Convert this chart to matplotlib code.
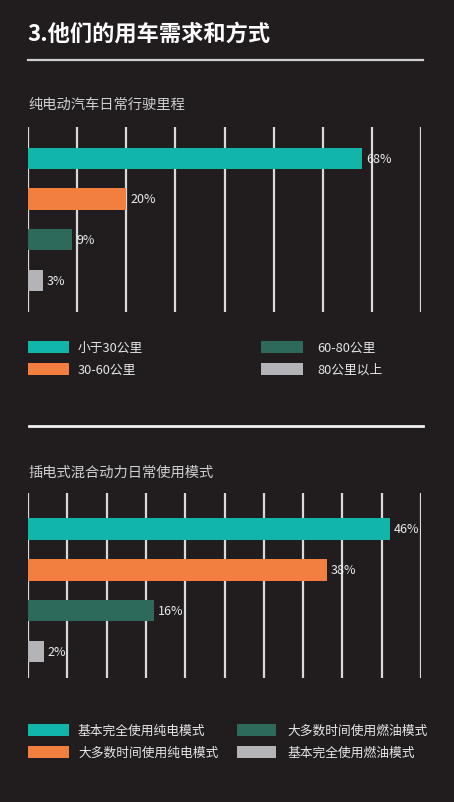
import matplotlib
matplotlib.use("Agg")
import matplotlib.pyplot as plt
from matplotlib.patches import Rectangle
from matplotlib.lines import Line2D

plt.rcParams['font.family'] = ['Noto Sans CJK SC', 'DejaVu Sans']

# ---- data ----
title = "3.他们的用车需求和方式"

ev_title = "纯电动汽车日常行驶里程"
ev_categories = ["小于30公里", "30-60公里", "60-80公里", "80公里以上"]
ev_values = [68, 20, 9, 3]

phev_title = "插电式混合动力日常使用模式"
phev_categories = ["基本完全使用纯电模式", "大多数时间使用纯电模式",
                   "大多数时间使用燃油模式", "基本完全使用燃油模式"]
phev_values = [46, 38, 16, 2]

colors = ["#12b5a9", "#f27f3f", "#2d6a5b", "#b4b4b8"]
BG = "#211d1e"
GRID = "#d9d9d9"
TXT = "#e6e6e6"

W, H = 454, 803
fig = plt.figure(figsize=(W / 100, H / 100), dpi=100, facecolor=BG)


def fx(px):
    return px / W


def fy(py):
    return 1 - py / H


def axes_px(x0, y0, x1, y1):
    return fig.add_axes([fx(x0), fy(y1), fx(x1 - x0), (y1 - y0) / H])


def hline(y, x0, x1, lw=1.5, color=GRID):
    fig.add_artist(Line2D([fx(x0), fx(x1)], [fy(y), fy(y)], color=color, lw=lw,
                          transform=fig.transFigure))


def draw_bars(ax, values, xmax, step, ylim):
    ax.set_facecolor(BG)
    ticks = list(range(0, xmax + 1, step))
    for t in ticks:
        ax.axvline(t, color=GRID, lw=1.6, zorder=1)
    ypos = list(range(len(values)))
    ax.barh(ypos, values, height=0.53, color=colors, zorder=2)
    for y, v in zip(ypos, values):
        ax.annotate(f"{v}%", (v, y), xytext=(3, 0), textcoords="offset points",
                    va="center", ha="left", color="#ececec", fontsize=9, zorder=3)
    ax.set_xlim(0, xmax)
    ax.set_ylim(*ylim)
    ax.axis("off")


def legend(rows, x_patch, x_text, pw, items):
    for (label, color), (col, row) in zip(items, [(0, 0), (0, 1), (1, 0), (1, 1)]):
        yc = rows[row]
        fig.add_artist(Rectangle((fx(x_patch[col]), fy(yc + 6)), fx(pw[col]), 12 / H,
                                 facecolor=color, edgecolor="none",
                                 transform=fig.transFigure))
        fig.text(fx(x_text[col]), fy(yc), label, color=TXT, fontsize=9.2,
                 va="center", ha="left")


# title
fig.text(fx(27), fy(34), title, color="white", fontsize=16, fontweight="bold",
         va="center", ha="left")
hline(61, 28, 423, lw=1.6, color="#cfcfcf")

# chart 1
fig.text(fx(28), fy(105), ev_title, color="#cfcfcf", fontsize=10.3, va="center", ha="left")
ax1 = axes_px(28, 128, 421, 313)
draw_bars(ax1, ev_values, 80, 10, (3.78, -0.77))
legend([348, 370], [28, 261], [78, 317], [41, 42],
       [(ev_categories[0], colors[0]), (ev_categories[1], colors[1]),
        (ev_categories[2], colors[2]), (ev_categories[3], colors[3])])

hline(427, 29, 423, lw=2.0, color="#f0f0f0")

# chart 2
fig.text(fx(28), fy(473), phev_title, color="#cfcfcf", fontsize=10.3, va="center", ha="left")
ax2 = axes_px(28, 494, 421, 679)
draw_bars(ax2, phev_values, 50, 5, (3.65, -0.88))
legend([731, 753], [28, 237], [78, 287], [41, 39],
       [(phev_categories[0], colors[0]), (phev_categories[1], colors[1]),
        (phev_categories[2], colors[2]), (phev_categories[3], colors[3])])

fig.savefig("out.png", dpi=100, facecolor=BG)
